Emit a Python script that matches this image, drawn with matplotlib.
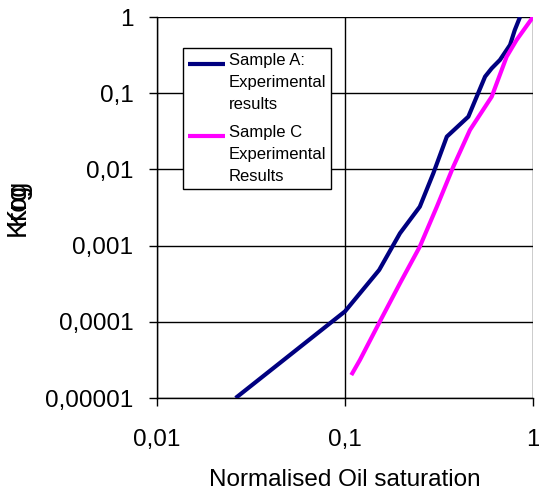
import matplotlib
matplotlib.use("Agg")
import matplotlib.pyplot as plt
import numpy as np
from matplotlib.ticker import FixedLocator, FixedFormatter, NullLocator

plt.rcParams['font.family'] = ['Liberation Sans', 'DejaVu Sans']

# Sample A: experimental results
sat_a = [0.0262, 0.100, 0.152, 0.196, 0.250, 0.295, 0.348, 0.453, 0.556, 0.603, 0.667, 0.755, 0.800, 0.853]
kr_a = [1.0e-5, 1.37e-4, 4.79e-4, 1.45e-3, 3.24e-3, 8.9e-3, 0.0269, 0.0492, 0.165, 0.212, 0.273, 0.43, 0.674, 1.0]

# Sample C: experimental results
sat_c = [0.108, 0.120, 0.153, 0.196, 0.250, 0.308, 0.377, 0.462, 0.603, 0.724, 0.818, 1.0]
kr_c = [2.0e-5, 3.15e-5, 1.0e-4, 3.2e-4, 9.7e-4, 3.24e-3, 0.0109, 0.0329, 0.090, 0.301, 0.50, 1.0]

x_ticks = [0.01, 0.1, 1]
x_tick_labels = ['0,01', '0,1', '1']
y_ticks = [1e-5, 1e-4, 1e-3, 1e-2, 1e-1, 1]
y_tick_labels = ['0,00001', '0,0001', '0,001', '0,01', '0,1', '1']

W, H = 539, 497
fig = plt.figure(figsize=(W / 100, H / 100), dpi=100)
ax = fig.add_axes([157 / W, (H - 398) / H, (533 - 157) / W, (398 - 17) / H])

ax.plot(sat_a, kr_a, color='#000080', lw=3.0, solid_capstyle='butt',
        label='Sample A:\nExperimental\nresults', zorder=3)
ax.plot(sat_c, kr_c, color='#FF00FF', lw=3.0, solid_capstyle='butt',
        label='Sample C\nExperimental\nResults', zorder=3)

ax.set_xscale('log')
ax.set_yscale('log')
ax.set_xlim(0.01, 1)
ax.set_ylim(1e-5, 1)

ax.xaxis.set_major_locator(FixedLocator(x_ticks))
ax.xaxis.set_major_formatter(FixedFormatter(x_tick_labels))
ax.yaxis.set_major_locator(FixedLocator(y_ticks))
ax.yaxis.set_major_formatter(FixedFormatter(y_tick_labels))
ax.xaxis.set_minor_locator(NullLocator())
ax.yaxis.set_minor_locator(NullLocator())

ax.tick_params(axis='both', which='major', direction='out', length=6,
               width=1, color='black', labelsize=17.5)
ax.tick_params(axis='x', pad=16)
ax.tick_params(axis='y', pad=11)

ax.grid(True, which='major', color='black', lw=1)
for s in ax.spines.values():
    s.set_color('black')
    s.set_linewidth(1)
ax.spines['top'].set_visible(False)
ax.spines['right'].set_visible(False)

ax.set_xlabel('Normalised Oil saturation', fontsize=17.5, labelpad=13)

# Overlapping relative permeability axis titles
fig.text(18 / W, 1 - 236 / H, 'Krog', rotation=90, fontsize=19.5,
         ha='center', va='bottom')
fig.text(18 / W, 1 - 225 / H, 'Krg', rotation=90, fontsize=19.5,
         ha='center', va='bottom')

leg = ax.legend(loc='upper left', bbox_to_anchor=((183 - 157) / (533 - 157), (398 - 48) / (398 - 17)),
                fontsize=12, frameon=True, fancybox=False, framealpha=1,
                edgecolor='black', handlelength=2.2, handletextpad=0.25,
                borderpad=0.3, labelspacing=0.75, borderaxespad=0)
leg.get_frame().set_linewidth(1)
for t in leg.get_texts():
    t.set_linespacing(1.6)

# put each legend line beside the first row of its label
fig.canvas.draw()
for h, t in zip(leg.legend_handles, leg.get_texts()):
    bb = t.get_window_extent()
    pitch = bb.height / 3.0
    target = bb.y1 - pitch * 0.55
    tr = h.get_transform()
    inv = tr.inverted()
    ydata = np.asarray(h.get_ydata(), dtype=float)
    cur = tr.transform((0, ydata[0]))[1]
    shift = inv.transform((0, target))[1] - inv.transform((0, cur))[1]
    h.set_ydata(ydata + shift)

fig.savefig('out.png', dpi=100)
